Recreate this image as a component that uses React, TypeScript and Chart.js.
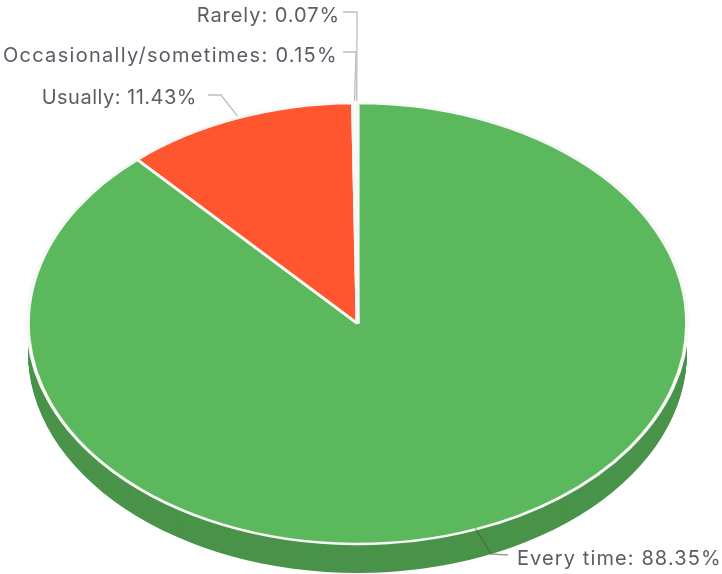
import React, { useEffect, useRef } from "react";
import { Chart, registerables } from "chart.js";

Chart.register(...registerables);

const categories = ["Every time", "Usually", "Occasionally/sometimes", "Rarely"];
const shares = [88.35, 11.43, 0.15, 0.07];
const topColors = ["#5cb85c", "#ff5630", "#ffab00", "#9e9e9e"];
const sideColors = ["#4a934a", "#cc4526", "#cc8900", "#7e7e7e"];

const CX = 357.5, CY = 323.5, RX = 329.5, RY = 220.5, DEPTH = 29;
const FONT = '20px Inter, "Open Sans", sans-serif';
const TEXT = "#5c5c66";
const LINE = "#bdbdbd";

// label placement: text anchor + elbow of leader, per category
const labelLayout = [
  { tx: 517, ty: 559, align: "left", elbow: [491, 554], end: [508, 555], spacing: 1.1 },
  { tx: 197, ty: 98, align: "right", elbow: [221, 95], end: [208, 95], spacing: 0.5 },
  { tx: 338, ty: 56, align: "right", elbow: [356, 52], end: [343, 52], spacing: 1.3 },
  { tx: 340, ty: 16, align: "right", elbow: [357, 12], end: [343, 12], spacing: 0.95 },
];

const ellipse3d = {
  id: "ellipse3d",
  beforeDatasetsDraw(chart: any) {
    const ctx = chart.ctx;
    const arcs = chart.getDatasetMeta(0).data;
    const a0 = arcs[0];
    const sx = RX / a0.outerRadius, sy = RY / a0.outerRadius;
    arcs.forEach((a: any, i: number) => {
      for (let d = DEPTH; d >= 1; d--) {
        ctx.save();
        ctx.translate(CX, CY + d);
        ctx.scale(sx, sy);
        ctx.beginPath();
        ctx.moveTo(0, 0);
        ctx.arc(0, 0, a.outerRadius, a.startAngle, a.endAngle);
        ctx.closePath();
        ctx.fillStyle = sideColors[i];
        ctx.fill();
        ctx.restore();
      }
    });
    ctx.save();
    ctx.translate(CX, CY);
    ctx.scale(sx, sy);
    ctx.translate(-a0.x, -a0.y);
  },
  afterDatasetsDraw(chart: any) {
    const ctx = chart.ctx;
    ctx.restore();
    const arcs = chart.getDatasetMeta(0).data;
    ctx.save();
    ctx.font = FONT;
    ctx.textBaseline = "middle";
    arcs.forEach((a: any, i: number) => {
      const mid = (a.startAngle + a.endAngle) / 2;
      const px = CX + RX * Math.cos(mid);
      const py = CY + RY * Math.sin(mid);
      const l = labelLayout[i];
      ctx.beginPath();
      ctx.moveTo(px, i === 0 ? py - 1 : py - 2);
      ctx.lineTo(l.elbow[0], l.elbow[1]);
      ctx.lineTo(l.end[0], l.end[1]);
      ctx.lineWidth = 1.3;
      ctx.strokeStyle = i === 0 ? "rgba(60,90,60,0.55)" : LINE;
      ctx.stroke();
      ctx.fillStyle = TEXT;
      ctx.textAlign = l.align as CanvasTextAlign;
      (ctx as any).letterSpacing = `${l.spacing}px`;
      ctx.fillText(`${categories[i]}: ${shares[i].toFixed(2)}%`, l.tx, l.ty);
    });
    ctx.restore();
  },
};

export default function App() {
  const ref = useRef<HTMLCanvasElement>(null);
  useEffect(() => {
    document.body.style.margin = "0";
    document.body.style.background = "#fff";
    const chart = new Chart(ref.current!, {
      type: "pie",
      data: {
        labels: categories,
        datasets: [
          {
            data: shares,
            backgroundColor: topColors,
            borderColor: "#f7f8f6",
            borderWidth: 3.2,
            clip: false,
          } as any,
        ],
      },
      options: {
        responsive: false,
        animation: false,
        devicePixelRatio: 1,
        layout: { padding: 0 },
        plugins: { legend: { display: false }, tooltip: { enabled: false }, title: { display: false } },
      },
      plugins: [ellipse3d],
    });
    return () => chart.destroy();
  }, []);
  return <canvas ref={ref} width={722} height={574} style={{ display: "block" }} />;
}
